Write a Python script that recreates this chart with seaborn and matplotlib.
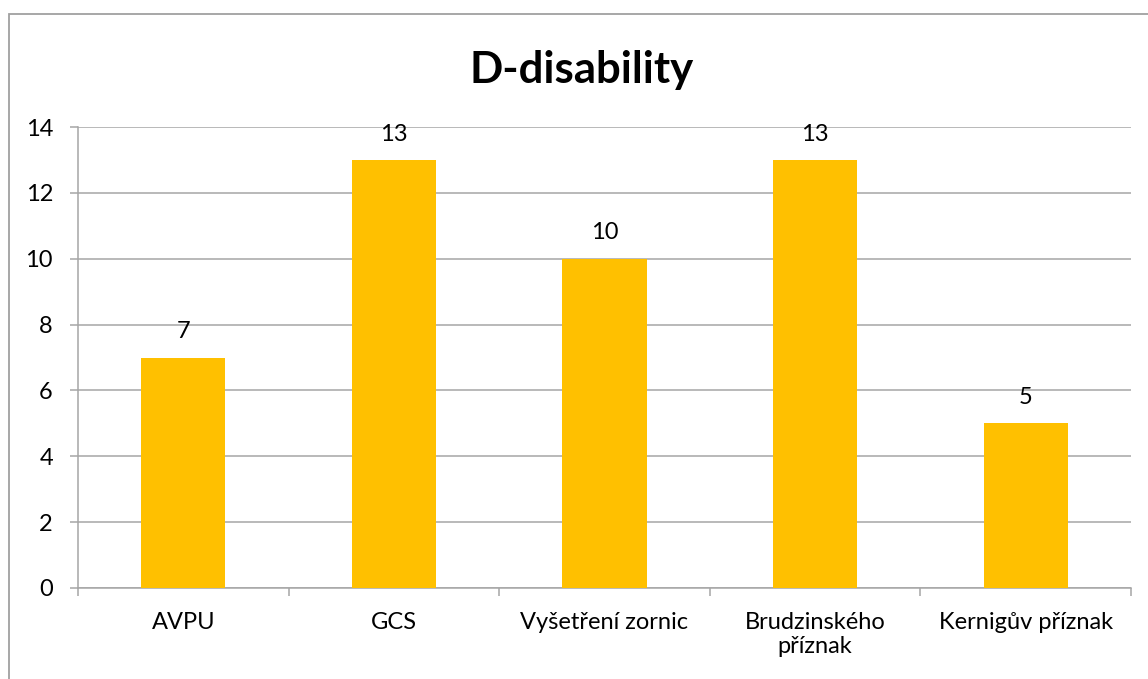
import matplotlib
matplotlib.use("Agg")
import matplotlib.pyplot as plt
import matplotlib.patches as mpatches
import seaborn as sns
import pandas as pd

categories = ["AVPU", "GCS", "Vyšetření zornic", "Brudzinského\npříznak", "Kernigův příznak"]
values = [7, 13, 10, 13, 5]
y_ticks = [0, 2, 4, 6, 8, 10, 12, 14]
title = "D-disability"

BAR = "#FFC000"
GRID = "#A6A6A6"
FS = 17

sns.set_theme(style="white")
plt.rcParams["font.family"] = ["Lato", "DejaVu Sans"]

fig = plt.figure(figsize=(11.48, 6.79), dpi=100)
fig.patch.set_facecolor("white")

# chart frame (left and top edges visible, rest runs off the canvas)
fig.add_artist(mpatches.Rectangle((9 / 1148, -0.05), 1.2, (679 - 14) / 679 + 0.05,
                                  transform=fig.transFigure, fill=False,
                                  edgecolor="#A0A0A0", linewidth=1.3))

ax = fig.add_axes([78 / 1148, (679 - 588) / 679, (1131 - 78) / 1148, (588 - 127) / 679])

df = pd.DataFrame({"cat": categories, "val": values})
sns.barplot(data=df, x="cat", y="val", color=BAR, width=0.4, saturation=1,
            linewidth=0, ax=ax, zorder=3)

ax.set_ylim(0, 14)
ax.set_xlim(-0.5, len(categories) - 0.5)
ax.set_yticks(y_ticks)
ax.yaxis.grid(True, color=GRID, linewidth=1.1, zorder=0)
ax.set_axisbelow(True)

for s in ["top", "right"]:
    ax.spines[s].set_visible(False)
for s in ["left", "bottom"]:
    ax.spines[s].set_color(GRID)
    ax.spines[s].set_linewidth(1.1)

ax.set_xlabel("")
ax.set_ylabel("")
ax.tick_params(axis="y", which="major", left=True, length=6, width=1.1, color=GRID,
               pad=12, labelsize=FS, labelcolor="black")
ax.tick_params(axis="x", which="major", bottom=True, length=0, pad=17,
               labelsize=FS, labelcolor="black")
ax.set_xticks([i - 0.5 for i in range(len(categories) + 1)], minor=True)
ax.tick_params(axis="x", which="minor", bottom=True, length=6, width=1.1, color=GRID)
for lbl in ax.get_xticklabels():
    lbl.set_linespacing(1.2)
    lbl.set_verticalalignment("top")

for i, v in enumerate(values):
    ax.annotate(str(v), (i, v), xytext=(0, 11), textcoords="offset points",
                ha="center", va="bottom", fontsize=FS, color="black")

fig.text(582 / 1148, 1 - 70 / 679, title, ha="center", va="center",
         fontsize=31.5, fontweight="bold", color="black")

fig.savefig("out.png", dpi=100, facecolor="white")
